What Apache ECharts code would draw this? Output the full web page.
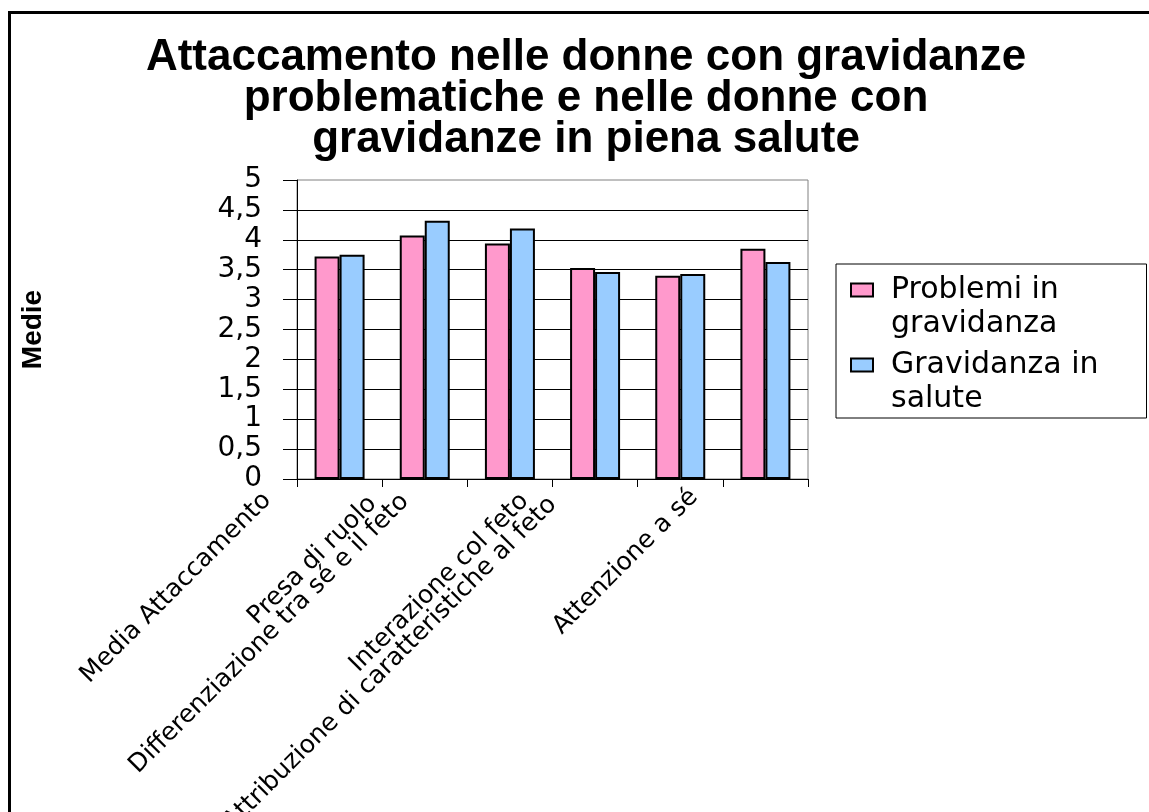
<!DOCTYPE html>
<html>
<head>
<meta charset="utf-8">
<script src="https://cdn.jsdelivr.net/npm/echarts@6/dist/echarts.min.js"></script>
<style>
html,body{margin:0;padding:0;background:#fff;}
#chart{width:1149px;height:812px;}
</style>
</head>
<body>
<div id="chart"></div>
<script>
const titleText = 'Attaccamento nelle donne con gravidanze\nproblematiche e nelle donne con\ngravidanze in piena salute';
const yAxisName = 'Medie';
const categories = [
  'Media Attaccamento',
  'Presa di ruolo',
  'Differenziazione tra sé e il feto',
  'Interazione col feto',
  'Attribuzione di caratteristiche al feto',
  'Attenzione a sé'
];
const seriesNames = ['Problemi in gravidanza', 'Gravidanza in salute'];
const legendLabels = ['Problemi in\ngravidanza', 'Gravidanza in\nsalute'];
const problemi = [3.72, 4.07, 3.94, 3.53, 3.40, 3.85];
const salute = [3.75, 4.32, 4.19, 3.46, 3.43, 3.63];

// label styling offsets (padding) to mimic the reference placement
const labelPadding = [
  [0, 58, 89, 0],
  [0, 46, 55, 0],
  [0, 82, 133, 0],
  [0, 57, 85, 0],
  [0, 100, 161, 0],
  [0, 55, 92, 0]
];

const REG = '"DejaVu Sans", sans-serif';
const BOLD = '"Liberation Sans", Arial, sans-serif';

const richLabels = {};
labelPadding.forEach(function (p, i) {
  richLabels['p' + i] = {padding: p, fontFamily: REG, fontSize: 25, color: '#000'};
});

const chart = echarts.init(document.getElementById('chart'), null, {renderer: 'canvas'});
chart.setOption({
  backgroundColor: '#fff',
  animation: false,
  title: {
    text: titleText,
    left: 586,
    textAlign: 'center',
    top: 37,
    padding: 0,
    textStyle: {fontFamily: BOLD, fontWeight: 'bold', fontSize: 44, lineHeight: 41, color: '#000'}
  },
  graphic: [{
    type: 'rect', left: 7, top: 10, silent: true, z: -1,
    shape: {width: 1300, height: 1000},
    style: {fill: 'none', stroke: '#000', lineWidth: 3}
  }],
  legend: {
    orient: 'vertical',
    left: 836, top: 264,
    padding: [9, 48, 2, 14],
    itemWidth: 22, itemHeight: 47, itemGap: 7,
    icon: 'path://M0,0L22,0L22,13L0,13Z M0,47L0,47',
    borderColor: '#000', borderWidth: 1,
    data: seriesNames,
    formatter: function (name) { return legendLabels[seriesNames.indexOf(name)]; },
    textStyle: {fontFamily: REG, fontSize: 30, lineHeight: 34, color: '#000', padding: [0, 0, 0, 13]}
  },
  grid: {
    left: 297, right: 341, top: 180, bottom: 333,
    show: true, borderColor: '#808080', borderWidth: 1, backgroundColor: '#fff',
    containLabel: false, outerBoundsMode: 'none'
  },
  xAxis: {
    type: 'category',
    data: categories,
    axisLine: {lineStyle: {color: '#000', width: 1}},
    axisTick: {show: true, length: 8, alignWithLabel: false, lineStyle: {color: '#000'}},
    axisLabel: {
      interval: 0, rotate: 45, margin: 8, fontFamily: REG, fontSize: 25, color: '#000',
      formatter: function (value, index) { return '{p' + index + '|' + value + '}'; },
      rich: richLabels
    },
    splitLine: {show: false}
  },
  yAxis: {
    type: 'value', min: 0, max: 5, interval: 0.5,
    name: yAxisName, nameLocation: 'middle', nameRotate: 90, nameGap: 250,
    nameTextStyle: {fontFamily: BOLD, fontWeight: 'bold', fontSize: 28, color: '#000'},
    axisLine: {show: true, lineStyle: {color: '#000', width: 1}},
    axisTick: {show: true, length: 14, lineStyle: {color: '#000'}},
    axisLabel: {margin: 35, fontFamily: REG, fontSize: 28, color: '#000',
      formatter: function (v) { return String(v).replace('.', ','); }},
    splitLine: {show: true, showMaxLine: false, lineStyle: {color: '#000', width: 1}}
  },
  series: [
    {name: seriesNames[0], type: 'bar', data: problemi, barWidth: 25, barGap: '0%',
     itemStyle: {color: '#FF99CC', borderColor: '#000', borderWidth: 2}},
    {name: seriesNames[1], type: 'bar', data: salute, barWidth: 25, barGap: '0%',
     itemStyle: {color: '#99CCFF', borderColor: '#000', borderWidth: 2}}
  ]
});
</script>
</body>
</html>
